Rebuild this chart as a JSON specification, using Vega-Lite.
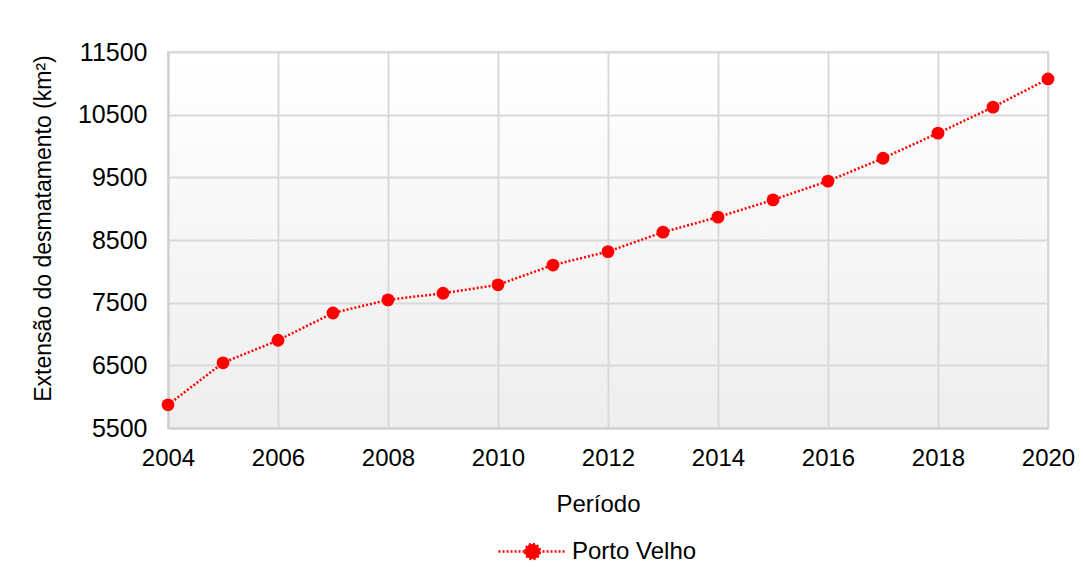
{
  "$schema": "https://vega.github.io/schema/vega-lite/v6.json",
  "autosize": "none",
  "width": 880,
  "height": 376,
  "padding": {"left": 168, "top": 52, "right": 35, "bottom": 156},
  "background": "#ffffff",
  "view": {
    "stroke": "#d9d9d9",
    "strokeWidth": 2,
    "fill": {"gradient": "linear", "x1": 0, "y1": 0, "x2": 0, "y2": 1,
      "stops": [{"offset": 0, "color": "#ffffff"}, {"offset": 1, "color": "#eeeeee"}]}
  },
  "config": {
    "font": "Liberation Sans",
    "axis": {
      "labelFont": "Liberation Sans",
      "titleFont": "Liberation Sans",
      "labelColor": "#000000",
      "titleColor": "#000000",
      "titleFontWeight": "normal",
      "gridColor": "#d9d9d9",
      "gridWidth": 2,
      "gridOpacity": 1,
      "domainColor": "#cfcfcf",
      "domainWidth": 2,
      "ticks": false,
      "labelFlush": false
    },
    "legend": {"labelFont": "Liberation Sans", "labelColor": "#000000"}
  },
  "data": {
    "values": [
      {"ano": 2004, "area": 5870, "municipio": "Porto Velho"},
      {"ano": 2005, "area": 6540, "municipio": "Porto Velho"},
      {"ano": 2006, "area": 6900, "municipio": "Porto Velho"},
      {"ano": 2007, "area": 7335, "municipio": "Porto Velho"},
      {"ano": 2008, "area": 7545, "municipio": "Porto Velho"},
      {"ano": 2009, "area": 7650, "municipio": "Porto Velho"},
      {"ano": 2010, "area": 7785, "municipio": "Porto Velho"},
      {"ano": 2011, "area": 8100, "municipio": "Porto Velho"},
      {"ano": 2012, "area": 8315, "municipio": "Porto Velho"},
      {"ano": 2013, "area": 8625, "municipio": "Porto Velho"},
      {"ano": 2014, "area": 8865, "municipio": "Porto Velho"},
      {"ano": 2015, "area": 9140, "municipio": "Porto Velho"},
      {"ano": 2016, "area": 9440, "municipio": "Porto Velho"},
      {"ano": 2017, "area": 9805, "municipio": "Porto Velho"},
      {"ano": 2018, "area": 10205, "municipio": "Porto Velho"},
      {"ano": 2019, "area": 10620, "municipio": "Porto Velho"},
      {"ano": 2020, "area": 11070, "municipio": "Porto Velho"}
    ]
  },
  "encoding": {
    "x": {
      "field": "ano", "type": "quantitative",
      "scale": {"domain": [2004, 2020], "nice": false, "zero": false},
      "axis": {
        "title": "Período",
        "values": [2004, 2006, 2008, 2010, 2012, 2014, 2016, 2018, 2020],
        "format": "d",
        "labelFontSize": 24,
        "labelPadding": 18,
        "titleFontSize": 24,
        "titlePadding": 22,
        "titleX": 430
      }
    },
    "y": {
      "field": "area", "type": "quantitative",
      "scale": {"domain": [5500, 11500], "nice": false, "zero": false},
      "axis": {
        "title": "Extensão do desmatamento (km²)",
        "values": [5500, 6500, 7500, 8500, 9500, 10500, 11500],
        "format": "d",
        "labelFontSize": 25,
        "labelPadding": 21,
        "titleFontSize": 23,
        "titlePadding": 22,
        "titleY": 176
      }
    }
  },
  "layer": [
    {
      "mark": {"type": "line", "strokeDash": [2, 2], "strokeWidth": 2.5},
      "encoding": {
        "color": {
          "field": "municipio", "type": "nominal",
          "scale": {"range": ["#ff0000"]},
          "legend": {
            "title": null,
            "orient": "none",
            "legendX": 329,
            "legendY": 464,
            "padding": 0,
            "labelFontSize": 24,
            "labelOffset": 4,
            "symbolSize": 4624,
            "symbolType": "M-1,0H1M-0.22,0A0.22,0.22,0,1,1,0.22,0A0.22,0.22,0,1,1,-0.22,0Z",
            "symbolStrokeWidth": 2.5,
            "symbolDash": [2, 2],
            "symbolFillColor": "#ff0000",
            "symbolStrokeColor": "#ff0000",
            "symbolOpacity": 1,
            "encode": {"symbols": {"update": {"fill": {"value": "#ff0000"}, "opacity": {"value": 1}}}}
          }
        }
      }
    },
    {
      "mark": {"type": "point", "filled": true, "size": 165, "color": "#ff0000", "opacity": 1}
    }
  ]
}
